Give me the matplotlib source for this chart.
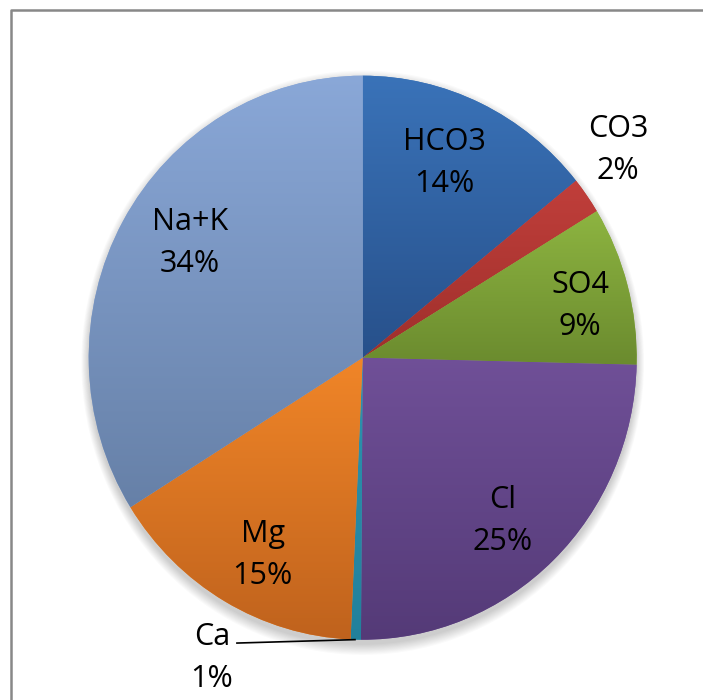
import numpy as np
import matplotlib
matplotlib.use("Agg")
import matplotlib.pyplot as plt
from matplotlib.colors import to_rgb
from matplotlib.patches import Ellipse
from matplotlib.lines import Line2D

# Ion composition shares (percent of total)
ions = ["HCO3", "CO3", "SO4", "Cl", "Ca", "Mg", "Na+K"]
shares = [14.2, 2.1, 9.1, 24.7, 0.6, 15.4, 33.9]

# Vertical gradient (top colour, bottom colour) per slice
top_colors = ["#3A73B9", "#C13F3B", "#8EB541", "#705098", "#2E95B0", "#F18628", "#8AA8D8"]
bottom_colors = ["#27508A", "#9E2F2B", "#6A8A2E", "#543A77", "#22809B", "#BF621D", "#6680A7"]

W, H, DPI = 703, 700, 100
cx_px, cy_px = 362.7, 357.7      # pie centre in pixels (from top-left)
rx_px, ry_px = 274.0, 282.0      # pixel size of one data unit

plt.rcParams["font.family"] = ["Open Sans", "DejaVu Sans"]

fig = plt.figure(figsize=(W / DPI, H / DPI), dpi=DPI)
fig.patch.set_facecolor("white")
ax = fig.add_axes([0, 0, 1, 1])

wedges, _ = ax.pie(shares, startangle=90, counterclock=False, radius=1.0,
                   colors=top_colors, wedgeprops=dict(linewidth=0))

# soft drop shadow beneath the pie
for i in range(10):
    ax.add_patch(Ellipse((0, -0.018), 2 * (1.0 + 0.003 * i), 2 * (1.0 + 0.004 * i),
                         facecolor="black", edgecolor="none", alpha=0.018, zorder=0.5))

# gradient fills clipped to each wedge
for w, ct, cb in zip(wedges, top_colors, bottom_colors):
    w.set_zorder(1)
    verts = w.get_path().vertices
    pts = w.get_patch_transform().transform(verts)
    y0, y1 = pts[:, 1].min(), pts[:, 1].max()
    x0, x1 = pts[:, 0].min(), pts[:, 0].max()
    t = np.linspace(0, 1, 256)[:, None]
    c0, c1 = np.array(to_rgb(ct)), np.array(to_rgb(cb))
    grad = (c0 * (1 - t) + c1 * t)[:, None, :]
    im = ax.imshow(grad, extent=(x0 - 0.01, x1 + 0.01, y0 - 0.01, y1 + 0.01),
                   origin="upper", aspect="auto", zorder=2, interpolation="bilinear")
    im.set_clip_path(w)

ax.set_aspect("auto")
ax.set_xlim(-cx_px / rx_px, (W - cx_px) / rx_px)
ax.set_ylim(-(H - cy_px) / ry_px, cy_px / ry_px)
ax.axis("off")

# data-label anchor points (best-fit placement)
label_pos = {
    "HCO3": (0.299, 0.691),
    "CO3": (0.932, 0.737),
    "SO4": (0.793, 0.183),
    "Cl": (0.512, -0.579),
    "Ca": (-0.55, -1.065),
    "Mg": (-0.365, -0.700),
    "Na+K": (-0.630, 0.407),
}

fs = 22
for w, name, v in zip(wedges, ions, shares):
    lx, ly = label_pos[name]
    ax.text(lx, ly, f"{name}\n{round(v):d}%", ha="center", va="center",
            fontsize=fs, linespacing=1.5, zorder=5)
    if name == "Ca":
        mid = np.deg2rad((w.theta1 + w.theta2) / 2)
        ax.plot([-0.462, np.cos(mid)], [-1.012, np.sin(mid)], color="black",
                lw=1.2, zorder=5, solid_capstyle="butt")

# chart area border (top and left edges visible)
fig.add_artist(Line2D([10.5 / W, 10.5 / W, 1.01], [-0.01, 1 - 9.5 / H, 1 - 9.5 / H],
                      transform=fig.transFigure, color="#888888", lw=1.8))

fig.savefig("out.png", dpi=DPI, facecolor="white")
